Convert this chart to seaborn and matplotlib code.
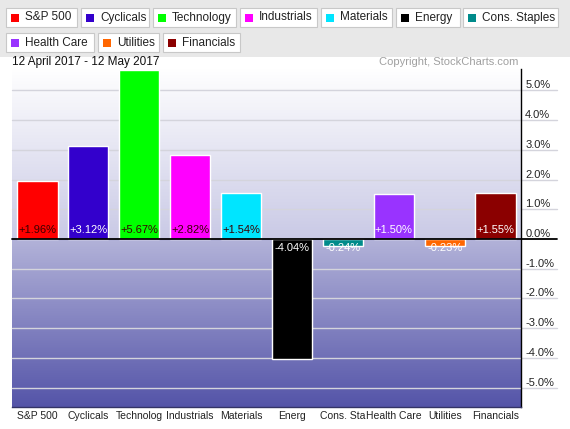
import numpy as np
import matplotlib
matplotlib.use("Agg")
import matplotlib.pyplot as plt
import seaborn as sns
from matplotlib.patches import Rectangle

# Datos del gráfico
sectores = ["S&P 500", "Cyclicals", "Technology", "Industrials", "Materials",
            "Energy", "Cons. Staples", "Health Care", "Utilities", "Financials"]
etiquetas_x = ["S&P 500", "Cyclicals", "Technolog", "Industrials", "Materials",
               "Energ", "Cons. Sta", "Health Care", "Utilities", "Financials"]
cambios = [1.96, 3.12, 5.67, 2.82, 1.54, -4.04, -0.24, 1.50, -0.23, 1.55]
colores = ["#ff0000", "#3300cc", "#00ff00", "#ff00ff", "#00e5ff",
           "#000000", "#008b8b", "#9933ff", "#ff6600", "#8b0000"]
texto_blanco = [False, True, False, False, False, True, True, True, True, True]
yticks = [5, 4, 3, 2, 1, 0, -1, -2, -3, -4, -5]

sns.set_style("white")
plt.rcParams['font.family'] = ['Liberation Sans', 'DejaVu Sans']

fig = plt.figure(figsize=(5.7, 4.29), dpi=100)
fig.patch.set_facecolor("white")

# Banda gris de la leyenda
fig.patches.append(Rectangle((0, 1 - 57 / 429), 1, 57 / 429, transform=fig.transFigure,
                             facecolor="#e8e8e8", edgecolor="none", zorder=0))

ax = fig.add_axes([12 / 570, 1 - 407 / 429, (521 - 12) / 570, (407 - 69) / 429])
ymin, ymax = -5.65, 5.72
n = len(sectores)

# Fondo degradado (parte positiva: lavanda en 0 hasta blanco arriba)
t = np.linspace(0, 1, 200)[:, None]
c_top = np.array([1.0, 1.0, 1.0])
c_zero = np.array([0.79, 0.79, 0.90])
grad_up = c_zero + (c_top - c_zero) * t
ax.imshow(grad_up[:, None, :].repeat(2, axis=1), extent=(-0.5, n - 0.5, 0, ymax),
          origin="lower", aspect="auto", zorder=0)
# parte negativa: oscuro abajo hasta lavanda claro en 0
c_z2 = np.array([0.70, 0.70, 0.85])
c_bot = np.array([0.33, 0.33, 0.66])
grad_dn = c_bot + (c_z2 - c_bot) * t
ax.imshow(grad_dn[:, None, :].repeat(2, axis=1), extent=(-0.5, n - 0.5, ymin, 0),
          origin="lower", aspect="auto", zorder=0)
ax.set_xlim(-0.5, n - 0.5)
ax.set_ylim(ymin, ymax)

# Líneas de cuadrícula
for y in yticks:
    if y == 0:
        continue
    ax.axhline(y, xmin=0, xmax=1.07, color="#d4d4dc", lw=1, clip_on=False, zorder=1)

sns.barplot(x=sectores, y=cambios, hue=sectores, palette=colores, width=0.79,
            legend=False, saturation=1, ax=ax, zorder=2)
ax.axhline(0, xmin=0, xmax=1.07, color="black", lw=1.3, clip_on=False, zorder=3)

# Etiquetas de valores
for i, v in enumerate(cambios):
    col = "white" if texto_blanco[i] else "#3a0000"
    if v >= 0:
        ax.text(i, 0.12, f"+{v:.2f}%", ha="center", va="bottom", fontsize=8, color=col, zorder=4)
    else:
        ax.text(i, -0.12, f"{v:.2f}%", ha="center", va="top", fontsize=8, color=col, zorder=4)

ax.set_xticks(range(n))
ax.set_xticklabels(etiquetas_x, fontsize=7.5, color="#222222")
ax.yaxis.tick_right()
ax.set_yticks(yticks)
ax.set_yticklabels([f"{y:.1f}%" for y in yticks], fontsize=8, color="#222222")
for lab in ax.get_yticklabels():
    lab.set_va("bottom")
ax.tick_params(axis="both", length=0)
ax.tick_params(axis="y", pad=3)
ax.tick_params(axis="x", pad=3)
ax.set_xlabel("")
ax.set_ylabel("")
for s in ["left", "top"]:
    ax.spines[s].set_visible(False)
ax.spines["right"].set_color("black")
ax.spines["right"].set_linewidth(1)
ax.spines["bottom"].set_color("#333366")
ax.spines["bottom"].set_linewidth(1)

# Título y copyright
fig.text(12 / 570, 1 - 62 / 429, "12 April 2017 - 12 May 2017", fontsize=8.5,
         va="center", ha="left", color="#111111")
fig.text(518 / 570, 1 - 62 / 429, "Copyright, StockCharts.com", fontsize=8,
         va="center", ha="right", color="#a0a0a0")

# Leyenda en cajas
cajas = [(6, 8, 77), (81, 8, 149), (153, 8, 236), (240, 8, 317), (321, 8, 392),
         (396, 8, 460), (463, 8, 558), (6, 33, 94), (98, 33, 159), (163, 33, 240)]
for (x0, y0, x1), nombre, col in zip(cajas, sectores, colores):
    h = 19
    fig.patches.append(Rectangle((x0 / 570, 1 - (y0 + h) / 429), (x1 - x0) / 570, h / 429,
                                 transform=fig.transFigure, facecolor="white",
                                 edgecolor="#c8c8c8", lw=0.8, zorder=1))
    fig.patches.append(Rectangle(((x0 + 5) / 570, 1 - (y0 + 14) / 429), 8 / 570, 8 / 429,
                                 transform=fig.transFigure, facecolor=col,
                                 edgecolor="none", zorder=2))
    fig.text((x0 + 19) / 570, 1 - (y0 + h / 2) / 429, nombre, fontsize=8.5,
             va="center", ha="left", color="#222222")

fig.savefig("out.png", dpi=100)
